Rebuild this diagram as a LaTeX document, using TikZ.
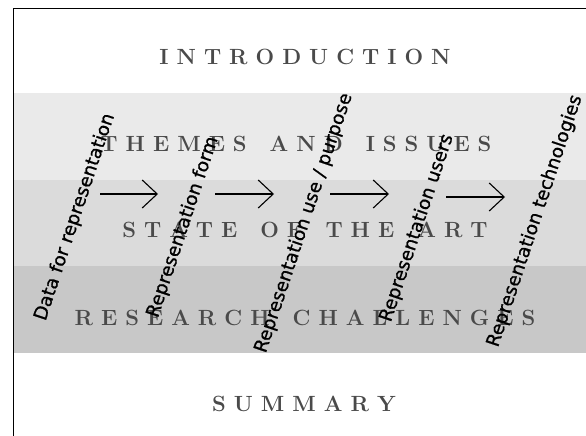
\documentclass[tikz,border=0pt]{standalone}
\usepackage{fontspec}
\newfontfamily\handfont[FakeBold=0.9]{DejaVu Sans}
\usetikzlibrary{arrows.meta}
\definecolor{bandA}{HTML}{EAEAEA}
\definecolor{bandB}{HTML}{DBDBDB}
\definecolor{bandC}{HTML}{C8C8C8}
\definecolor{headgray}{HTML}{4A4A4A}
\newlength\lsgap \setlength\lsgap{8pt}
\newcommand\wgap{\kern 7pt}
\makeatletter
\newcommand\spacedcaps[1]{\@tfor\sletter:=#1\do{\sletter\kern\lsgap}\kern-\lsgap}
\makeatother
\tikzset{
  heading/.style={font=\fontsize{22}{25}\selectfont\bfseries, text=headgray, anchor=base, inner sep=0pt},
  handtext/.style={font=\handfont\fontsize{18.5}{20}\selectfont, text=black, rotate=71.5, inner sep=0pt},
  flowarrow/.style={line width=1.1pt, -{Straight Barb[length=15pt,width=28pt,line width=1.1pt]}},
  frameline/.style={line width=0.9pt, black}
}
\begin{document}
\begin{tikzpicture}[x=1pt,y=-1pt]
\useasboundingbox (0,0) rectangle (586,436);
\fill[white] (0,0) rectangle (586,436);
% bands
\fill[bandA] (13,93) rectangle (586,180);
\fill[bandB] (13,180) rectangle (586,266);
\fill[bandC] (13,266) rectangle (586,353);
% frame
\draw[frameline] (13,436) -- (13,8) -- (586,8);
% headings
\node[heading] (intro) at (305,65) {\spacedcaps{INTRODUCTION}};
\node[heading] (themes) at (296,151) {\spacedcaps{THEMES\wgap AND\wgap ISSUES}};
\node[heading] (state) at (305,237) {\spacedcaps{STATE\wgap OF\wgap THE\wgap ART}};
\node[heading] (research) at (305,325) {\spacedcaps{RESEARCH\wgap CHALLENGES}};
\node[heading] (summary) at (304,411) {\spacedcaps{SUMMARY}};
% arrows
\coordinate (a1s) at (100,194); \coordinate (a1e) at (158,194);
\coordinate (a2s) at (215,194); \coordinate (a2e) at (274,194);
\coordinate (a3s) at (330,194); \coordinate (a3e) at (389,194);
\coordinate (a4s) at (446,197); \coordinate (a4e) at (505,197);
\draw[flowarrow] (a1s) -- (a1e);
\draw[flowarrow] (a2s) -- (a2e);
\draw[flowarrow] (a3s) -- (a3e);
\draw[flowarrow] (a4s) -- (a4e);
% rotated labels
\node[handtext] (data) at (75,217) {Data for representation};
\node[handtext] (form) at (183,227) {Representation form};
\node[handtext] (use) at (304,223) {Representation use / purpose};
\node[handtext] (users) at (417,228) {Representation users};
\node[handtext] (tech) at (535,221) {Representation technologies};
\end{tikzpicture}
\end{document}
